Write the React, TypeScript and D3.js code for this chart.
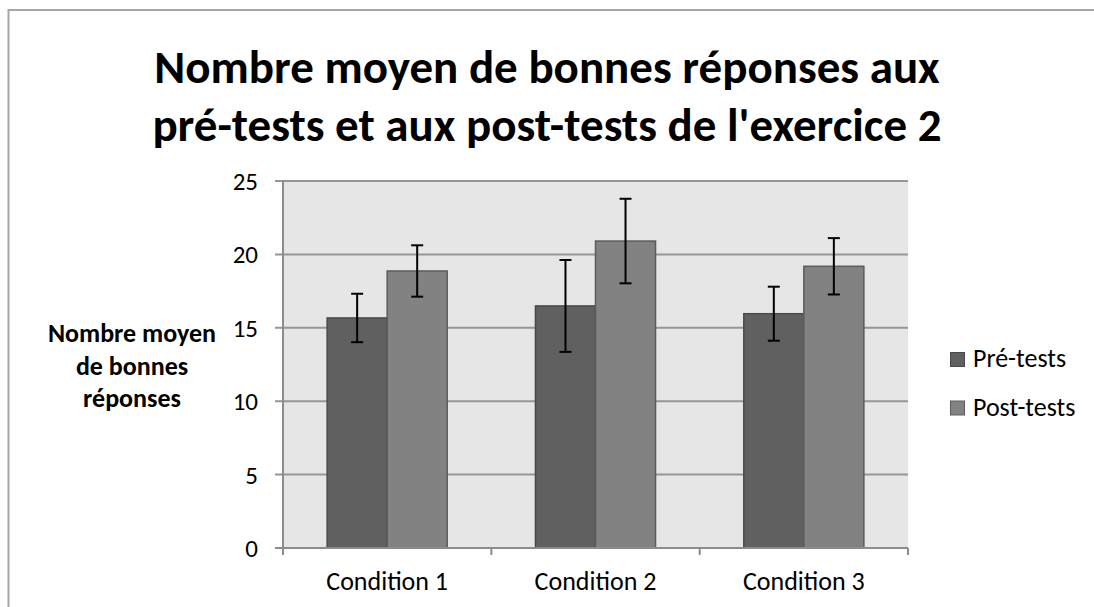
import React from 'react';
import * as d3 from 'd3';

// values
const conditions = ['Condition 1', 'Condition 2', 'Condition 3'];
const seriesNames = ['Pré-tests', 'Post-tests'];
const preMeans = [15.67, 16.49, 15.96];
const preErrors = [1.65, 3.13, 1.84];
const postMeans = [18.87, 20.91, 19.19];
const postErrors = [1.75, 2.88, 1.92];
const yTicks = [0, 5, 10, 15, 20, 25];
const titleLines = ['Nombre moyen de bonnes réponses aux', "pré-tests et aux post-tests de l'exercice 2"];
const yTitleLines = ['Nombre moyen', 'de bonnes', 'réponses'];

const fills = ['#606060', '#828282'];
const strokes = ['#4a4a4a', '#5c5c5c'];
const FONT = "Carlito, Calibri, Lato, 'Open Sans', sans-serif";

const W = 1094;
const H = 607;
const plot = { left: 283, right: 908, top: 181, bottom: 548 };

const App = () => {
    const x0 = d3.scaleBand<string>()
        .domain(conditions)
        .range([plot.left, plot.right])
        .padding(0);

    const x1 = d3.scaleBand<string>()
        .domain(seriesNames)
        .range([0, x0.bandwidth()])
        .paddingInner(0)
        .paddingOuter(0.735);

    const y = d3.scaleLinear()
        .domain([0, 25])
        .range([plot.bottom, plot.top]);

    const rows = conditions.map((c, i) => ({
        c,
        vals: [
            { key: seriesNames[0], mean: preMeans[i], err: preErrors[i], idx: 0 },
            { key: seriesNames[1], mean: postMeans[i], err: postErrors[i], idx: 1 },
        ],
    }));

    const bw = x1.bandwidth();
    const catEdges = [...conditions.map(c => x0(c)!), plot.right];

    return (
        <svg width={W} height={H} style={{ position: 'absolute', left: 0, top: 0, background: '#fff' }}>
            {/* chart frame */}
            <rect x={8.5} y={10} width={W + 20} height={H + 20} fill="#fff" stroke="#a6a6a6" strokeWidth={2} />

            {/* title */}
            <g fontFamily={FONT} fontWeight="bold" fontSize={47} textAnchor="middle" fill="#000">
                {titleLines.map((t, i) => (
                    <text key={i} x={547} y={83 + i * 58}>{t}</text>
                ))}
            </g>

            {/* plot background */}
            <rect x={plot.left} y={plot.top} width={plot.right - plot.left} height={plot.bottom - plot.top} fill="#e6e6e6" />

            {/* gridlines */}
            {yTicks.filter(t => t > 0).map(t => (
                <line key={t} x1={plot.left - 8} x2={plot.right} y1={y(t)} y2={y(t)} stroke="#969696" strokeWidth={2} />
            ))}

            {/* bars */}
            {rows.map(r => (
                <g key={r.c} transform={`translate(${x0(r.c)},0)`}>
                    {r.vals.map(v => (
                        <rect key={v.key}
                            x={x1(v.key)!}
                            y={y(v.mean)}
                            width={bw}
                            height={y(0) - y(v.mean)}
                            fill={fills[v.idx]}
                            stroke={strokes[v.idx]}
                            strokeWidth={1.5} />
                    ))}
                    {r.vals.map(v => {
                        const cx = x1(v.key)! + bw / 2;
                        return (
                            <g key={v.key + '-err'} stroke="#000" strokeWidth={2}>
                                <line x1={cx} x2={cx} y1={y(v.mean + v.err)} y2={y(v.mean - v.err)} />
                                <line x1={cx - 6} x2={cx + 6} y1={y(v.mean + v.err)} y2={y(v.mean + v.err)} />
                                <line x1={cx - 6} x2={cx + 6} y1={y(v.mean - v.err)} y2={y(v.mean - v.err)} />
                            </g>
                        );
                    })}
                </g>
            ))}

            {/* y axis */}
            <line x1={plot.left} x2={plot.left} y1={plot.top} y2={plot.bottom} stroke="#8c8c8c" strokeWidth={2} />
            <line x1={plot.left - 8} x2={plot.left} y1={y(0)} y2={y(0)} stroke="#8c8c8c" strokeWidth={2} />
            <g fontFamily={FONT} fontSize={25} textAnchor="end" fill="#000">
                {yTicks.map(t => (
                    <text key={t} x={258} y={y(t) + 9}>{t}</text>
                ))}
            </g>

            {/* x axis */}
            <line x1={plot.left} x2={plot.right} y1={plot.bottom} y2={plot.bottom} stroke="#8c8c8c" strokeWidth={2} />
            {catEdges.map((e, i) => (
                <line key={i} x1={e} x2={e} y1={plot.bottom} y2={plot.bottom + 7} stroke="#8c8c8c" strokeWidth={2} />
            ))}
            <g fontFamily={FONT} fontSize={26} textAnchor="middle" fill="#000">
                {conditions.map(c => (
                    <text key={c} x={x0(c)! + x0.bandwidth() / 2} y={590}>{c}</text>
                ))}
            </g>

            {/* y title */}
            <g fontFamily={FONT} fontWeight="bold" fontSize={26} textAnchor="middle" fill="#000">
                {yTitleLines.map((t, i) => (
                    <text key={i} x={132} y={342 + i * 32.5}>{t}</text>
                ))}
            </g>

            {/* legend */}
            <g fontFamily={FONT} fontSize={26} fill="#000">
                {seriesNames.map((s, i) => (
                    <g key={s} transform={`translate(950,${352 + i * 48.5})`}>
                        <rect x={0.5} y={0.5} width={14} height={14} fill={fills[i]} stroke={strokes[i]} strokeWidth={1} />
                        <text x={23} y={15}>{s}</text>
                    </g>
                ))}
            </g>
        </svg>
    );
};

export default App;
